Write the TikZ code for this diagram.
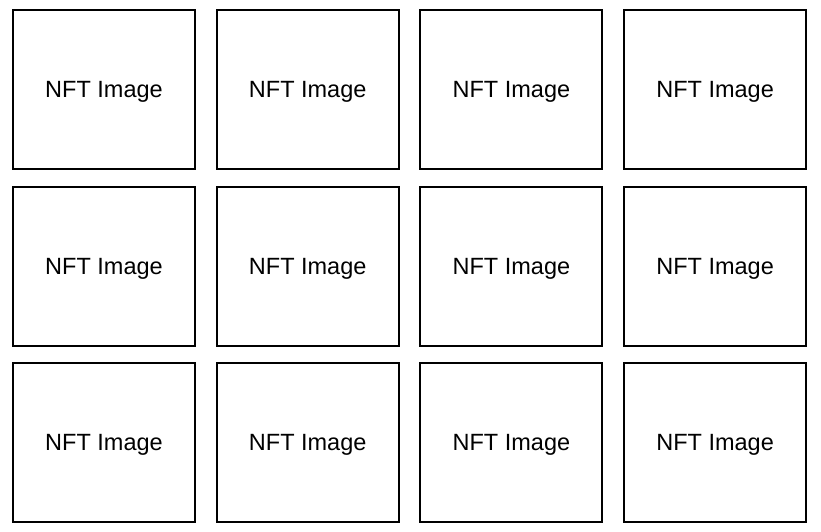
\documentclass[tikz,border=0pt]{standalone}
\usepackage{fontspec}
\setmainfont{Liberation Sans}
\usetikzlibrary{positioning}

\begin{document}
\begin{tikzpicture}[
    node distance=15.5pt and 19.7pt,
    imgbox/.style={rectangle, draw, line width=2pt, align=center, minimum width=182pt, minimum height=159pt, text depth=0pt, font=\fontsize{23.5}{28}\selectfont}
]
    \useasboundingbox (0,0) rectangle (821pt,-531pt);
    % first row
    \node[imgbox] (img11) at (104pt,-89.5pt) {NFT Image};
    \node[imgbox, right=of img11] (img12) {NFT Image};
    \node[imgbox, right=of img12] (img13) {NFT Image};
    \node[imgbox, right=of img13] (img14) {NFT Image};
    % second row
    \node[imgbox, below=of img11] (img21) {NFT Image};
    \node[imgbox, right=of img21] (img22) {NFT Image};
    \node[imgbox, right=of img22] (img23) {NFT Image};
    \node[imgbox, right=of img23] (img24) {NFT Image};
    % third row
    \node[imgbox, below=of img21] (img31) {NFT Image};
    \node[imgbox, right=of img31] (img32) {NFT Image};
    \node[imgbox, right=of img32] (img33) {NFT Image};
    \node[imgbox, right=of img33] (img34) {NFT Image};
\end{tikzpicture}
\end{document}
